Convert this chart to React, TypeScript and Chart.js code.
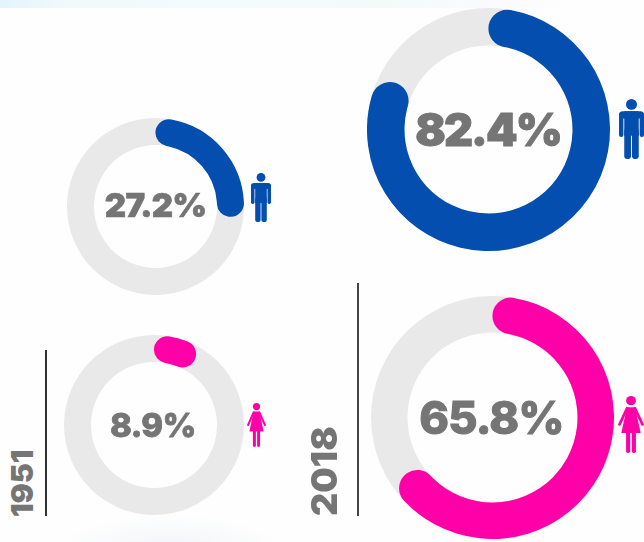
import React, { useEffect, useRef } from "react";
import { Chart, registerables } from "chart.js";

Chart.register(...registerables);

const categories = ["1951 men", "2018 men", "1951 women", "2018 women"];
const shares = [27.2, 82.4, 8.9, 65.8];
const yearLabels = ["1951", "2018"];

const BLUE = "#034EAE";
const PINK = "#FF00A8";
const TRACK = "#E9E9E9";
const TEXT = "#757575";

const rings = [
  { cx: 155.5, cy: 206, r: 88.5, inner: 61.5, color: BLUE, font: "900 33px Inter", labelX: 155.5, labelY: 205.3, spacing: -0.7, stroke: 0.7 },
  { cx: 488, cy: 129.5, r: 121.5, inner: 84, color: BLUE, font: "900 45px Inter", labelX: 488, labelY: 129.3, spacing: -1.9, stroke: 1 },
  { cx: 153.5, cy: 424.5, r: 90, inner: 63, color: PINK, font: "800 33px Inter", labelX: 153, labelY: 425, spacing: -0.6, stroke: 0.8 },
  { cx: 492.5, cy: 417.5, r: 121.5, inner: 85, color: PINK, font: "800 45px Inter", labelX: 491.5, labelY: 417.3, spacing: -0.9, stroke: 1 },
];

const ringPlugin = {
  id: "ringDecor",
  beforeDatasetsDraw(chart: any) {
    const arc = chart.getDatasetMeta(0).data[0];
    const ctx = chart.ctx;
    ctx.save();
    ctx.beginPath();
    ctx.arc(arc.x, arc.y, arc.outerRadius, 0, Math.PI * 2);
    ctx.arc(arc.x, arc.y, arc.innerRadius, 0, Math.PI * 2, true);
    ctx.fillStyle = TRACK;
    ctx.fill();
    ctx.restore();
  },
};

function Ring({ index }: { index: number }) {
  const ref = useRef<HTMLCanvasElement>(null);
  const ring = rings[index];
  const size = Math.ceil(ring.r * 2);
  useEffect(() => {
    const chart = new Chart(ref.current as HTMLCanvasElement, {
      type: "doughnut",
      data: {
        labels: [categories[index], "rest"],
        datasets: [
          {
            data: [shares[index], 100 - shares[index]],
            backgroundColor: [ring.color, "rgba(0,0,0,0)"],
            borderWidth: 0,
            borderRadius: [(ring.r - ring.inner) / 2, 0],
          },
        ],
      },
      options: {
        animation: false,
        responsive: false,
        cutout: ring.inner,
        radius: ring.r,
        layout: { padding: 0 },
        plugins: { legend: { display: false }, tooltip: { enabled: false } },
      },
      plugins: [ringPlugin],
    } as any);
    return () => chart.destroy();
  }, []);
  return (
    <canvas
      ref={ref}
      width={size}
      height={size}
      style={{ position: "absolute", left: ring.cx - size / 2, top: ring.cy - size / 2, width: size, height: size }}
    />
  );
}

function Man({ x, y, w, h }: { x: number; y: number; w: number; h: number }) {
  return (
    <svg viewBox="0 0 20 49" preserveAspectRatio="none" style={{ position: "absolute", left: x, top: y, width: w, height: h }} fill={BLUE}>
      <circle cx="10" cy="4.4" r="4.4" />
      <rect x="0" y="10" width="20" height="6" rx="3" />
      <rect x="0" y="11" width="3.5" height="20" rx="1.7" />
      <rect x="16.5" y="11" width="3.5" height="20" rx="1.7" />
      <rect x="4.2" y="10" width="11.6" height="20" />
      <rect x="4.2" y="24" width="5.4" height="25" rx="2" />
      <rect x="10.4" y="24" width="5.4" height="25" rx="2" />
    </svg>
  );
}

function Woman({ x, y, w, h }: { x: number; y: number; w: number; h: number }) {
  return (
    <svg viewBox="0 0 19 44" preserveAspectRatio="none" style={{ position: "absolute", left: x, top: y, width: w, height: h }} fill={PINK}>
      <circle cx="9.5" cy="3.6" r="3.6" />
      <path d="M6.6 8.6 H12.4 L16.6 28.5 H2.4 Z" />
      <path d="M6.6 9.4 L1.1 22 M12.4 9.4 L17.9 22" stroke={PINK} strokeWidth="2" strokeLinecap="round" fill="none" />
      <rect x="5.9" y="27" width="3" height="17" rx="1.4" />
      <rect x="10.1" y="27" width="3" height="17" rx="1.4" />
    </svg>
  );
}

function Year({ text, x, bottom, size }: { text: string; x: number; bottom: number; size: number }) {
  return (
    <div
      style={{
        position: "absolute",
        left: x,
        top: bottom,
        font: `900 ${size}px Inter`,
        lineHeight: "1",
        color: TEXT,
        whiteSpace: "nowrap",
        transformOrigin: "0 0",
        transform: "rotate(-90deg)",
      }}
    >
      {text}
    </div>
  );
}

function CenterLabel({ index }: { index: number }) {
  const ring = rings[index];
  return (
    <div
      style={{
        position: "absolute",
        left: ring.labelX - 100,
        width: 200,
        top: ring.labelY - 30,
        height: 60,
        display: "flex",
        alignItems: "center",
        justifyContent: "center",
        font: ring.font,
        lineHeight: "1",
        color: TEXT,
        letterSpacing: `${ring.spacing}px`,
        WebkitTextStroke: `${ring.stroke}px ${TEXT}`,
      }}
    >
      {shares[index].toFixed(1)}%
    </div>
  );
}

export default function App() {
  useEffect(() => {
    document.body.style.margin = "0";
  }, []);
  return (
    <div style={{ position: "absolute", left: 0, top: 0, width: 644, height: 542, overflow: "hidden", background: "#FEFEFE" }}>
      <div style={{ position: "absolute", left: 0, top: 0, width: 644, height: 8, background: "linear-gradient(90deg,#E4F3FC 0%,#EFFAFA 10%,#F2FBFE 30%,#F3FBF9 60%,#FAFAFE 75%,#FEFEFE 90%)" }} />
      <div style={{ position: "absolute", left: 60, top: 515, width: 220, height: 60, background: "radial-gradient(ellipse at center,#F3F5F8 0%,#FEFEFE 70%)" }} />
      {rings.map((_, i) => (
        <Ring key={i} index={i} />
      ))}
      {rings.map((_, i) => (
        <CenterLabel key={i} index={i} />
      ))}
      <Man x={251} y={173} w={20} h={49} />
      <Man x={619} y={99} w={25} h={60} />
      <Woman x={247} y={403} w={19} h={44} />
      <Woman x={618} y={396} w={26} h={57} />
      <div style={{ position: "absolute", left: 45, top: 350, width: 2, height: 166, background: "#333" }} />
      <div style={{ position: "absolute", left: 357, top: 283, width: 2, height: 233, background: "#444" }} />
      <Year text={yearLabels[0]} x={7} bottom={517} size={30} />
      <Year text={yearLabels[1]} x={306} bottom={516} size={36} />
    </div>
  );
}
